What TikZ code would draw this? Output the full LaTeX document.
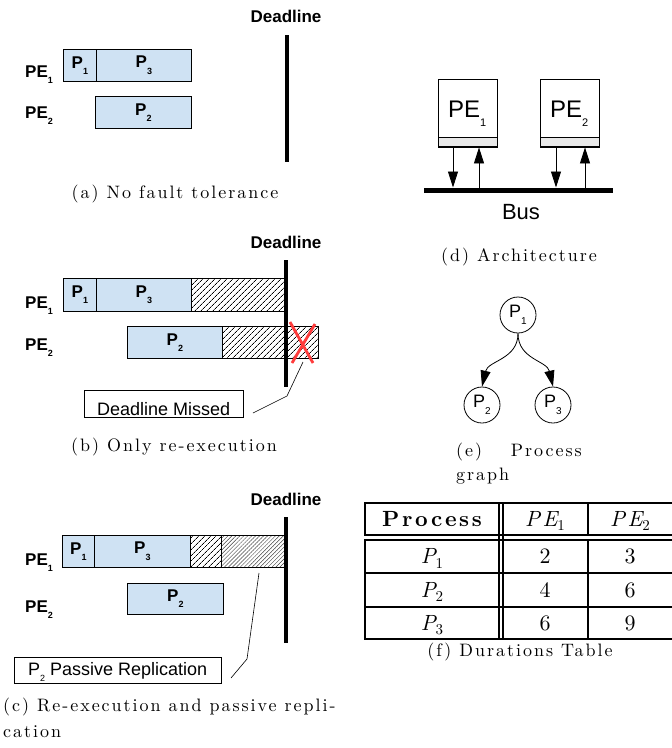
\documentclass[tikz,border=0pt]{standalone}
\usepackage{fontspec}
\setsansfont{Liberation Sans}
\newfontfamily\capfont{lmroman10-regular}[Extension=.otf, BoldFont=lmroman10-bold, ItalicFont=lmroman10-italic, LetterSpace=11]
\newfontfamily\tabfont{lmroman10-regular}[Extension=.otf, BoldFont=lmroman10-bold, ItalicFont=lmroman10-italic, LetterSpace=12]
\usetikzlibrary{arrows.meta,patterns.meta,calc}
\definecolor{taskblue}{RGB}{207,226,243}
\definecolor{stripgray}{RGB}{232,232,232}
\definecolor{xred}{RGB}{255,60,60}
\newcommand\sbs[2][9]{\raisebox{-0.38em}{\fontsize{#1}{#1}\selectfont #2}}
\newcommand\capfnt{\capfont\fontsize{18}{24}\selectfont}
\newcommand\tabfnt{\tabfont\fontsize{22}{22}\selectfont}
\newcommand\tsub[1]{\raisebox{-0.22em}{\fontsize{15}{15}\selectfont\upshape #1}}
\tikzset{
  task/.style={draw=black, fill=taskblue, line width=0.8pt, minimum height=32pt, inner sep=0pt, anchor=north west, font=\sffamily\bfseries\fontsize{17}{17}\selectfont},
  hatchA/.style={draw=black, line width=0.8pt, pattern={Lines[angle=45,distance=4pt,line width=0.7pt]}, minimum height=32pt, inner sep=0pt, anchor=north west},
  hatchB/.style={draw=black, line width=0.8pt, pattern={Lines[angle=45,distance=2.8pt,line width=0.45pt]}, pattern color=black!75, minimum height=32pt, inner sep=0pt, anchor=north west},
  pelabel/.style={anchor=base west, inner sep=0pt, font=\sffamily\bfseries\fontsize{17}{17}\selectfont},
  deadtxt/.style={anchor=base, inner sep=0pt, font=\sffamily\bfseries\fontsize{17}{17}\selectfont},
  deadline/.style={line width=3.5pt},
  capt/.style={anchor=base, inner sep=0pt, font=\capfnt},
  captl/.style={anchor=base west, inner sep=0pt, font=\capfnt},
  sanslbl/.style={anchor=base west, inner sep=0pt, font=\sffamily\fontsize{18}{18}\selectfont},
  callout/.style={draw=black, line width=0.8pt, inner sep=0pt, anchor=north west},
  leader/.style={line width=0.6pt},
  redx/.style={draw=xred, line width=2.8pt},
  pebox/.style={draw=black, line width=0.8pt, minimum width=59pt, minimum height=68pt, anchor=north west, inner sep=0pt},
  pestrip/.style={draw=black, fill=stripgray, line width=0.8pt, minimum width=59pt, minimum height=9pt, anchor=south west, inner sep=0pt},
  archtxt/.style={anchor=base west, inner sep=0pt, font=\sffamily\fontsize{24}{24}\selectfont},
  arr/.style={line width=0.8pt, -{Triangle[length=16pt,width=10pt]}},
  proc/.style={circle, draw=black, line width=0.8pt, minimum size=36pt, inner sep=0pt, font=\sffamily\fontsize{18}{18}\selectfont},
  tbl/.style={line width=2pt, line cap=rect},
  tabtxt/.style={anchor=base, inner sep=0pt, font=\tabfnt},
}
\begin{document}
\begin{tikzpicture}[x=1pt,y=-1pt]
\useasboundingbox[fill=white] (0,0) rectangle (672,748);

% ---------- (a) ----------
\node[deadtxt] (dla) at (286,22) {Deadline};
\coordinate (dla1) at (287,35); \coordinate (dla2) at (287,162);
\node[pelabel] (pe1a) at (25,77) {PE\sbs{1}};
\node[pelabel] (pe2a) at (25,118) {PE\sbs{2}};
\node[task, minimum width=33pt] (p1a) at (63,49) {P\sbs{1}};
\node[task, minimum width=95pt] (p3a) at (96,49) {P\sbs{3}};
\node[task, minimum width=96pt] (p2a) at (95,96) {P\sbs{2}};
\draw[deadline] (dla1) -- (dla2);
\node[capt] (capa) at (175,198) {(a) No fault tolerance};

% ---------- (b) ----------
\node[deadtxt] (dlb) at (286,248) {Deadline};
\coordinate (dlb1) at (286,260); \coordinate (dlb2) at (286,387);
\node[pelabel] (pe1b) at (25,308) {PE\sbs{1}};
\node[pelabel] (pe2b) at (25,350) {PE\sbs{2}};
\node[task, minimum width=33pt, minimum height=33pt] (p1b) at (63,278) {P\sbs{1}};
\node[task, minimum width=95pt, minimum height=33pt] (p3b) at (96,278) {P\sbs{3}};
\node[hatchA, minimum width=94pt, minimum height=33pt] (h1b) at (191,278) {};
\node[task, minimum width=95pt] (p2b) at (127,326) {P\sbs{2}};
\node[hatchA, minimum width=96pt] (h2b) at (222,326) {};
\draw[deadline] (dlb1) -- (dlb2);
\coordinate (xa1) at (290,322); \coordinate (xa2) at (313,363);
\coordinate (xb1) at (315,324); \coordinate (xb2) at (292,363);
\draw[redx] (xa1) -- (xa2);
\draw[redx] (xb1) -- (xb2);
\node[callout, minimum width=159pt, minimum height=27pt] (dmbox) at (84,390) {};
\node[sanslbl] (dmtxt) at (97,415) {Deadline Missed};
\coordinate (lb1) at (253,413); \coordinate (lb2) at (287,396); \coordinate (lb3) at (303,362);
\draw[leader] (lb1) -- (lb2) -- (lb3);
\node[capt] (capb) at (174,451) {(b) Only re-execution};

% ---------- (c) ----------
\node[deadtxt] (dlc) at (286,505) {Deadline};
\coordinate (dlc1) at (286,517); \coordinate (dlc2) at (286,643);
\node[pelabel] (pe1c) at (25,565) {PE\sbs{1}};
\node[pelabel] (pe2c) at (25,612) {PE\sbs{2}};
\node[task, minimum width=32pt] (p1c) at (62,535) {P\sbs{1}};
\node[task, minimum width=96pt] (p3c) at (94,535) {P\sbs{3}};
\node[hatchA, minimum width=31pt] (h1c) at (190,535) {};
\node[hatchB, minimum width=64pt] (h2c) at (221,535) {};
\node[task, minimum width=96pt, minimum height=31pt] (p2c) at (127,583) {P\sbs{2}};
\draw[deadline] (dlc1) -- (dlc2);
\node[callout, minimum width=207pt, minimum height=26pt] (prbox) at (14,657) {};
\node[sanslbl] (prtxt) at (28,675) {P\sbs{2} Passive Replication};
\coordinate (lc1) at (231,678); \coordinate (lc2) at (247,659); \coordinate (lc3) at (259,573);
\draw[leader] (lc1) -- (lc2) -- (lc3);
\node[captl] (capc1) at (3,711) {(c) Re-execution and passive repli-};
\node[captl] (capc2) at (3,737) {cation};

% ---------- (d) ----------
\node[pebox] (pe1box) at (438,79) {};
\node[pestrip] (pe1strip) at (438,147) {};
\node[pebox] (pe2box) at (540,79) {};
\node[pestrip] (pe2strip) at (540,147) {};
\node[archtxt] (pe1t) at (448,117) {PE\sbs[11]{1}};
\node[archtxt] (pe2t) at (550,117) {PE\sbs[11]{2}};
\coordinate (busL) at (424,190); \coordinate (busR) at (613,190);
\draw[line width=5pt] (busL) -- (busR);
\coordinate (d1a) at (453,147.4); \coordinate (d1b) at (453,187.5);
\coordinate (u1a) at (479,187.5); \coordinate (u1b) at (479,147.4);
\coordinate (d2a) at (556,147.4); \coordinate (d2b) at (556,187.5);
\coordinate (u2a) at (585,187.5); \coordinate (u2b) at (585,147.4);
\draw[arr] (d1a) -- (d1b);
\draw[arr] (u1a) -- (u1b);
\draw[arr] (d2a) -- (d2b);
\draw[arr] (u2a) -- (u2b);
\node[anchor=base, inner sep=0pt, font=\sffamily\fontsize{22}{22}\selectfont] (bus) at (521,219) {Bus};
\node[capt] (capd) at (519,261) {(d) Architecture};

% ---------- (e) ----------
\node[proc] (e1) at (518,315) {P\sbs[10]{1}};
\node[proc] (e2) at (482,405) {P\sbs[10]{2}};
\node[proc] (e3) at (553,405) {P\sbs[10]{3}};
\draw[arr] (e1.south) .. controls +(0,26) and +(6,-26) .. (e2.north);
\draw[arr] (e1.south) .. controls +(0,26) and +(-6,-26) .. (e3.north);
\node[captl] (cape1) at (456,456) {(e)};
\node[anchor=base east, inner sep=0pt, font=\capfnt] (cape2) at (582,456) {Process};
\node[captl] (cape3) at (456,480) {graph};

% ---------- (f) ----------
\foreach \yy in {503,535,540,573,607,639} \draw[tbl] (365,\yy) -- (673,\yy);
\foreach \xx in {365,499,503,588} \draw[tbl] (\xx,503) -- (\xx,535) (\xx,540) -- (\xx,639);
\foreach \xx in {499,503} \draw[tbl] (\xx,535) -- (\xx,540);
\node[tabtxt] (th1) at (432,526) {\bfseries Process};
\node[tabtxt] (th2) at (545,526) {\itshape PE\tsub{1}};
\node[tabtxt] (th3) at (630,526) {\itshape PE\tsub{2}};
\node[tabtxt] (r1a) at (432,563.5) {\itshape P\tsub{1}};
\node[tabtxt] (r1b) at (545,563.5) {2};
\node[tabtxt] (r1c) at (630,563.5) {3};
\node[tabtxt] (r2a) at (432,597) {\itshape P\tsub{2}};
\node[tabtxt] (r2b) at (545,597) {4};
\node[tabtxt] (r2c) at (630,597) {6};
\node[tabtxt] (r3a) at (432,630) {\itshape P\tsub{3}};
\node[tabtxt] (r3b) at (545,630) {6};
\node[tabtxt] (r3c) at (630,630) {9};
\node[capt] (capf) at (520,656) {(f) Durations Table};
\end{tikzpicture}
\end{document}
